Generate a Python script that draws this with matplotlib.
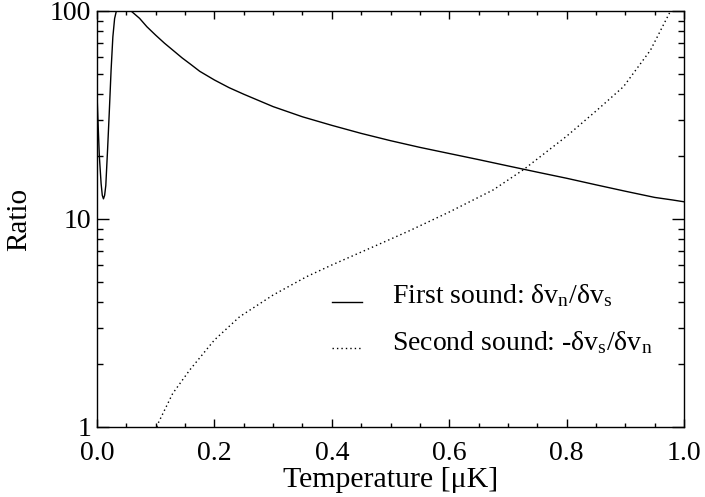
import matplotlib
matplotlib.use("Agg")
import matplotlib.pyplot as plt
from matplotlib.ticker import FixedLocator, NullFormatter, MultipleLocator

plt.rcParams['font.family'] = ['Liberation Serif', 'DejaVu Serif']
plt.rcParams['mathtext.fontset'] = 'custom'
plt.rcParams['mathtext.rm'] = 'Liberation Serif'
plt.rcParams['mathtext.it'] = 'Liberation Serif'

# First sound: dv_n/dv_s
t_first = [0.000, 0.002, 0.004, 0.007, 0.009, 0.011, 0.013, 0.015, 0.018, 0.021,
           0.024, 0.027, 0.030, 0.033, 0.040, 0.050, 0.058, 0.0725, 0.085, 0.10,
           0.115, 0.129, 0.145, 0.16, 0.175, 0.20, 0.225, 0.25, 0.30, 0.35,
           0.40, 0.45, 0.50, 0.55, 0.60, 0.65, 0.70, 0.75, 0.80,
           0.85, 0.90, 0.95, 0.98, 1.00]
r_first = [40.0, 28.0, 20.0, 14.8, 13.0, 12.5, 13.0, 14.5, 21.5, 33.0,
           52.0, 75.0, 92.0, 100.0, 120.0, 115.0, 100.0, 92.2, 84.0, 76.5,
           70.0, 64.9, 59.5, 55.3, 51.3, 46.6, 42.8, 39.8, 34.7, 31.0,
           28.2, 25.8, 23.8, 22.1, 20.65, 19.3, 18.0, 16.8, 15.7,
           14.6, 13.6, 12.7, 12.35, 12.1]

# Second sound: -dv_s/dv_n
t_second = [0.102, 0.104, 0.129, 0.158, 0.20, 0.243, 0.30, 0.357, 0.40, 0.471,
            0.50, 0.533, 0.60, 0.675, 0.727, 0.80, 0.852, 0.897, 0.943, 0.977]
r_second = [1.00, 1.04, 1.45, 1.88, 2.62, 3.39, 4.31, 5.28, 6.01, 7.36,
            8.0, 8.8, 10.8, 13.8, 17.3, 25.0, 33.4, 43.3, 64.9, 100.0]

labels = [r"First sound: δv$_\mathrm{n}$/δv$_\mathrm{s}$",
          r"Second sound: -δv$_\mathrm{s}$/δv$_\mathrm{n}$"]
yticks = [1, 10, 100]
yticklabels = ["1", "10", "100"]
xticks = [0.0, 0.2, 0.4, 0.6, 0.8, 1.0]
xticklabels = ["0.0", "0.2", "0.4", "0.6", "0.8", "1.0"]

fig = plt.figure(figsize=(7.05, 4.97), dpi=100)
ax = fig.add_axes([97/705, 1 - 427/497, 587/705, 416/497])

ax.plot(t_first, r_first, color='black', lw=1.0)
ax.plot(t_second, r_second, color='black', lw=1.0, linestyle=(0, (1, 2.2)))

ax.set_yscale('log')
ax.set_xlim(0, 1)
ax.set_ylim(1, 100)

ax.yaxis.set_major_locator(FixedLocator(yticks))
ax.set_yticklabels(yticklabels)
ax.yaxis.set_minor_locator(FixedLocator([2, 3, 4, 5, 6, 7, 8, 9, 20, 30, 40, 50, 60, 70, 80, 90]))
ax.yaxis.set_minor_formatter(NullFormatter())
ax.set_xticks(xticks)
ax.set_xticklabels(xticklabels)
ax.xaxis.set_minor_locator(MultipleLocator(0.05))

ax.tick_params(axis='both', which='both', direction='in', top=True, right=True,
               labelsize=20, width=1.0, colors='black')
ax.tick_params(axis='x', which='major', length=5.8, pad=10)
ax.tick_params(axis='x', which='minor', length=2.9)
ax.tick_params(axis='y', which='major', length=8.6, pad=4)
ax.tick_params(axis='y', which='minor', length=4.3)
for s in ax.spines.values():
    s.set_linewidth(1.0)

ax.set_xlabel("Temperature [μK]", fontsize=21.5, labelpad=1)
ax.set_ylabel("Ratio", fontsize=21, labelpad=13)

# legend
ax.plot([0.400, 0.451], [0.300, 0.300], transform=ax.transAxes, color='black', lw=1.0)
ax.plot([0.400, 0.451], [0.190, 0.190], transform=ax.transAxes, color='black', lw=1.0,
        linestyle=(0, (1, 2.2)))
ax.text(0.5025, 0.298, labels[0], transform=ax.transAxes, fontsize=20, va='baseline', ha='left')
ax.text(0.5025, 0.185, labels[1], transform=ax.transAxes, fontsize=20, va='baseline', ha='left')

fig.savefig("out.png", dpi=100)
